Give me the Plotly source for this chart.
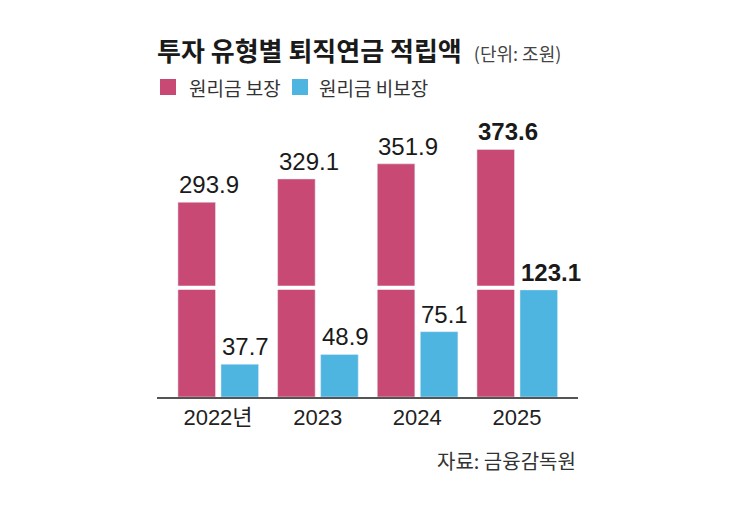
import plotly.graph_objects as go

# 투자 유형별 퇴직연금 적립액 (단위: 조원)
years = ["2022년", "2023", "2024", "2025"]
guaranteed = [293.9, 329.1, 351.9, 373.6]       # 원리금 보장
non_guaranteed = [37.7, 48.9, 75.1, 123.1]      # 원리금 비보장
series_names = ["원리금 보장", "원리금 비보장"]

PINK = "#c84a74"
BLUE = "#4eb4e0"
NUM_FONT = "Liberation Sans, Arial, Noto Sans CJK KR"
KR_FONT = "Noto Sans CJK KR, Liberation Sans"

# page body adds an 8px margin, so the figure is a bit smaller than the window
OFF = 8
W, H = 749 - 2 * OFF, 505 - 2 * OFF
PLOT_L, PLOT_T, PLOT_W, PLOT_H = 157, 130, 421, 267   # in window pixels
BAR_W = 0.377


def px(x):
    return (x - PLOT_L) / PLOT_W


def py(y):
    return (PLOT_T + PLOT_H - y) / PLOT_H


def label(v, last):
    s = f"{v:.1f}"
    return f"<b>{s}</b>" if last else s


fig = go.Figure()
fig.add_trace(go.Bar(
    x=years, y=guaranteed, name=series_names[0], marker_color=PINK,
    width=BAR_W, offset=-0.402, yaxis="y",
))
fig.add_trace(go.Bar(
    x=years, y=non_guaranteed, name=series_names[1], marker_color=BLUE,
    width=BAR_W, offset=0.03, yaxis="y2",
))

# value labels, left-aligned with each bar
for i in range(len(years)):
    last = i == len(years) - 1
    fig.add_annotation(x=i, y=guaranteed[i], yref="y", text=label(guaranteed[i], last),
                       xanchor="left", yanchor="bottom", xshift=-41, yshift=2,
                       showarrow=False, font=dict(family=NUM_FONT, size=24, color="#1a1a1a"))
    fig.add_annotation(x=i, y=non_guaranteed[i], yref="y2", text=label(non_guaranteed[i], last),
                       xanchor="left", yanchor="bottom", xshift=2, yshift=2,
                       showarrow=False, font=dict(family=NUM_FONT, size=24, color="#1a1a1a"))

# white break line across the tall bars
fig.add_shape(type="line", xref="paper", x0=0, x1=1, yref="y2",
              y0=max(non_guaranteed) * 1.02, y1=max(non_guaranteed) * 1.02,
              line=dict(color="white", width=4), layer="above")

# legend
for name, color, x0, tx in [(series_names[0], PINK, 160, 187), (series_names[1], BLUE, 292, 317)]:
    fig.add_shape(type="rect", xref="paper", yref="paper",
                  x0=px(x0), x1=px(x0 + 16), y0=py(95), y1=py(79),
                  fillcolor=color, line_width=0)
    fig.add_annotation(x=px(tx), y=py(87), xref="paper", yref="paper", text=name,
                       xanchor="left", yanchor="middle", showarrow=False,
                       font=dict(family=KR_FONT, size=19, color="#333"))

fig.add_annotation(x=1, y=py(460), xref="paper", yref="paper", text="자료: 금융감독원",
                   xanchor="right", yanchor="middle", showarrow=False,
                   font=dict(family=KR_FONT, size=20, color="#333"))

fig.update_layout(
    width=W, height=H,
    margin=dict(l=PLOT_L - OFF, r=W - (PLOT_L - OFF) - PLOT_W,
                t=PLOT_T - OFF, b=H - (PLOT_T - OFF) - PLOT_H),
    paper_bgcolor="white", plot_bgcolor="white",
    title=dict(
        text="<b>투자 유형별 퇴직연금 적립액</b>"
             "<span style='font-size:18px;color:#444'>&nbsp;&nbsp;&nbsp;(단위: 조원)</span>",
        x=(PLOT_L - OFF) / W, xanchor="left", y=1 - (52 - OFF) / H, yanchor="middle",
        font=dict(family=KR_FONT, size=26, color="#1a1a1a"),
    ),
    showlegend=False,
    xaxis=dict(type="category", range=[-0.612, 3.612], showline=True, linecolor="#555",
               linewidth=2, ticks="", showgrid=False,
               tickfont=dict(family=NUM_FONT + ", " + KR_FONT, size=22, color="#222")),
    yaxis=dict(range=[0, PLOT_H / 0.6626], visible=False, showgrid=False),
    yaxis2=dict(range=[0, PLOT_H / 0.870], visible=False, overlaying="y", showgrid=False),
    font=dict(family=KR_FONT),
)

fig.write_html("out.html")
